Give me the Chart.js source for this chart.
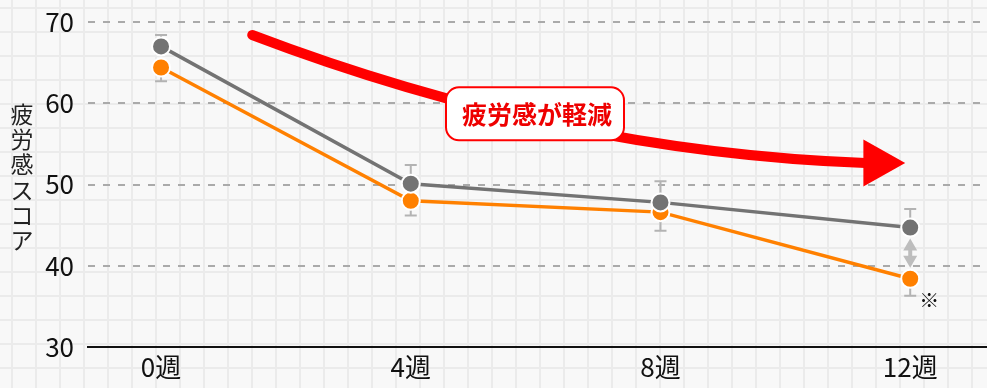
<!DOCTYPE html>
<html lang="ja">
<head>
<meta charset="UTF-8">
<title>疲労感スコアの推移</title>
<script src="https://cdn.jsdelivr.net/npm/chart.js"></script>
<style>
  html, body { margin: 0; padding: 0; }
  body {
    width: 987px; height: 388px; overflow: hidden;
    background-color: #f8f8f8;
    background-image:
      linear-gradient(to right, #ebebeb 2px, transparent 2px),
      linear-gradient(to bottom, #ebebeb 2px, transparent 2px);
    background-size: 24px 24px;
    background-position: 11px 7px;
  }
  #wrap { position: relative; width: 987px; height: 388px; }
</style>
</head>
<body>
<div id="wrap"><canvas id="fatigueChart"></canvas></div>
<script>
// 週ごとの疲労感スコア（平均と誤差）
const weeks = [0, 4, 8, 12];
const weekLabels = ["0週", "4週", "8週", "12週"];
const grayScore = [67.0, 50.1, 47.8, 44.7];
const grayErr = [1.4, 2.3, 2.6, 2.3];
const orangeScore = [64.4, 48.0, 46.6, 38.4];
const orangeErr = [1.7, 1.8, 2.3, 2.1];
const yTicks = [30, 40, 50, 60, 70];

const FONT = '"Noto Sans CJK JP", "Noto Sans", sans-serif';
const GRAY = "#737373";
const ORANGE = "#ff8000";

// 誤差棒（灰色は上側、オレンジは下側だけ描く）
const errorBars = {
  id: "errorBars",
  beforeDatasetsDraw(chart) {
    const { ctx, scales: { x, y } } = chart;
    const sets = [
      { score: grayScore, err: grayErr, dir: 1 },
      { score: orangeScore, err: orangeErr, dir: -1 }
    ];
    ctx.save();
    ctx.strokeStyle = "#b3b3b3";
    ctx.lineWidth = 2;
    sets.forEach(s => {
      weeks.forEach((w, i) => {
        const px = x.getPixelForValue(w);
        const y0 = y.getPixelForValue(s.score[i]);
        const y1 = y.getPixelForValue(s.score[i] + s.dir * s.err[i]);
        ctx.beginPath();
        ctx.moveTo(px, y0);
        ctx.lineTo(px, y1);
        ctx.moveTo(px - 6, y1);
        ctx.lineTo(px + 6, y1);
        ctx.stroke();
      });
    });
    ctx.restore();
  }
};

// 縦書きの軸タイトル
const yTitle = {
  id: "yTitle",
  afterDraw(chart) {
    const ctx = chart.ctx;
    const text = "疲労感スコア";
    ctx.save();
    ctx.font = "23px " + FONT;
    ctx.fillStyle = "#222";
    ctx.textAlign = "center";
    ctx.textBaseline = "middle";
    [...text].forEach((ch, i) => ctx.fillText(ch, 22, 114 + i * 25.3));
    ctx.restore();
  }
};

// 注釈：赤い矢印・吹き出し・差の矢印・※
const notes = {
  id: "notes",
  afterDatasetsDraw(chart) {
    const { ctx, scales: { x, y } } = chart;
    const P = (w, v) => [x.getPixelForValue(w), y.getPixelForValue(v)];

    ctx.save();
    // 曲線の矢印
    const [sx, sy] = P(1.46, 68.4);
    const [cx, cy] = P(6.39, 54.0);
    const [ex, ey] = P(11.25, 52.65);
    const [tx] = P(11.92, 52.65);
    ctx.strokeStyle = "#ff0000";
    ctx.fillStyle = "#ff0000";
    ctx.lineWidth = 10;
    ctx.lineCap = "round";
    ctx.beginPath();
    ctx.moveTo(sx, sy);
    ctx.quadraticCurveTo(cx, cy, ex + 2, ey);
    ctx.stroke();
    const half = y.getPixelForValue(52.65 - 2.9) - ey;
    ctx.beginPath();
    ctx.moveTo(ex, ey - half);
    ctx.lineTo(tx, ey);
    ctx.lineTo(ex, ey + half);
    ctx.closePath();
    ctx.fill();

    // 吹き出し
    const [bx, by] = P(5.99, 58.7);
    const bw = 178, bh = 53;
    ctx.beginPath();
    ctx.roundRect(bx - bw / 2, by - bh / 2, bw, bh, 13);
    ctx.fillStyle = "#ffffff";
    ctx.fill();
    ctx.lineWidth = 2;
    ctx.strokeStyle = "#ff0000";
    ctx.stroke();
    ctx.fillStyle = "#ee0000";
    ctx.font = "bold 25px " + FONT;
    ctx.textAlign = "center";
    ctx.textBaseline = "middle";
    ctx.fillText("疲労感が軽減", bx + 2, by + 1);

    // 12週の差を示す両矢印
    const ax = x.getPixelForValue(12);
    const top = y.getPixelForValue(grayScore[3]) + 11;
    const bot = y.getPixelForValue(orangeScore[3]) - 11;
    ctx.fillStyle = "#bdbdbd";
    ctx.strokeStyle = "#bdbdbd";
    ctx.lineWidth = 4;
    ctx.lineCap = "butt";
    ctx.beginPath();
    ctx.moveTo(ax, top + 8);
    ctx.lineTo(ax, bot - 8);
    ctx.stroke();
    ctx.beginPath();
    ctx.moveTo(ax, top);
    ctx.lineTo(ax - 7, top + 12);
    ctx.lineTo(ax + 7, top + 12);
    ctx.closePath();
    ctx.moveTo(ax, bot);
    ctx.lineTo(ax - 7, bot - 12);
    ctx.lineTo(ax + 7, bot - 12);
    ctx.closePath();
    ctx.fill();

    // ※印
    ctx.fillStyle = "#111";
    ctx.font = "20px " + FONT;
    ctx.fillText("※", ax + 19, y.getPixelForValue(orangeScore[3] - 2.7));
    ctx.restore();
  }
};

const toPoints = vals => weeks.map((w, i) => ({ x: w, y: vals[i] }));

new Chart(document.getElementById("fatigueChart"), {
  type: "line",
  data: {
    datasets: [
      {
        label: "灰",
        data: toPoints(grayScore),
        borderColor: GRAY,
        backgroundColor: GRAY,
        borderWidth: 3.5,
        pointRadius: 9,
        pointBorderColor: "#ffffff",
        pointBorderWidth: 2,
        pointBackgroundColor: GRAY,
        tension: 0
      },
      {
        label: "オレンジ",
        data: toPoints(orangeScore),
        borderColor: ORANGE,
        backgroundColor: ORANGE,
        borderWidth: 3.5,
        pointRadius: 9,
        pointBorderColor: "#ffffff",
        pointBorderWidth: 2,
        pointBackgroundColor: ORANGE,
        tension: 0
      }
    ]
  },
  options: {
    responsive: true,
    maintainAspectRatio: false,
    animation: false,
    layout: { autoPadding: false, padding: { top: 22, left: 0, right: 0, bottom: 0 } },
    plugins: {
      legend: { display: false },
      tooltip: { enabled: false }
    },
    scales: {
      x: {
        type: "linear",
        min: -1.17,
        max: 13.23,
        afterBuildTicks: s => { s.ticks = weeks.map(v => ({ value: v })); },
        afterFit: s => { s.height = 41; s.paddingLeft = 0; s.paddingRight = 0; },
        grid: { display: false, drawTicks: false },
        border: { display: true, color: "#111", width: 2 },
        ticks: {
          padding: 5,
          color: "#111",
          font: { family: FONT, size: 26 },
          maxRotation: 0,
          callback: v => weekLabels[weeks.indexOf(v)]
        }
      },
      y: {
        min: 30,
        max: 70,
        afterBuildTicks: s => { s.ticks = yTicks.map(v => ({ value: v })); },
        afterFit: s => { s.width = 88; s.paddingTop = 0; s.paddingBottom = 0; },
        grid: {
          drawTicks: false,
          color: c => (c.tick && c.tick.value === 30 ? "rgba(0,0,0,0)" : "#aaaaaa"),
          lineWidth: 2
        },
        border: { display: false, dash: [7, 8] },
        ticks: {
          padding: 14,
          color: "#111",
          font: { family: FONT, size: 26 }
        }
      }
    }
  },
  plugins: [errorBars, notes, yTitle]
});
</script>
</body>
</html>
